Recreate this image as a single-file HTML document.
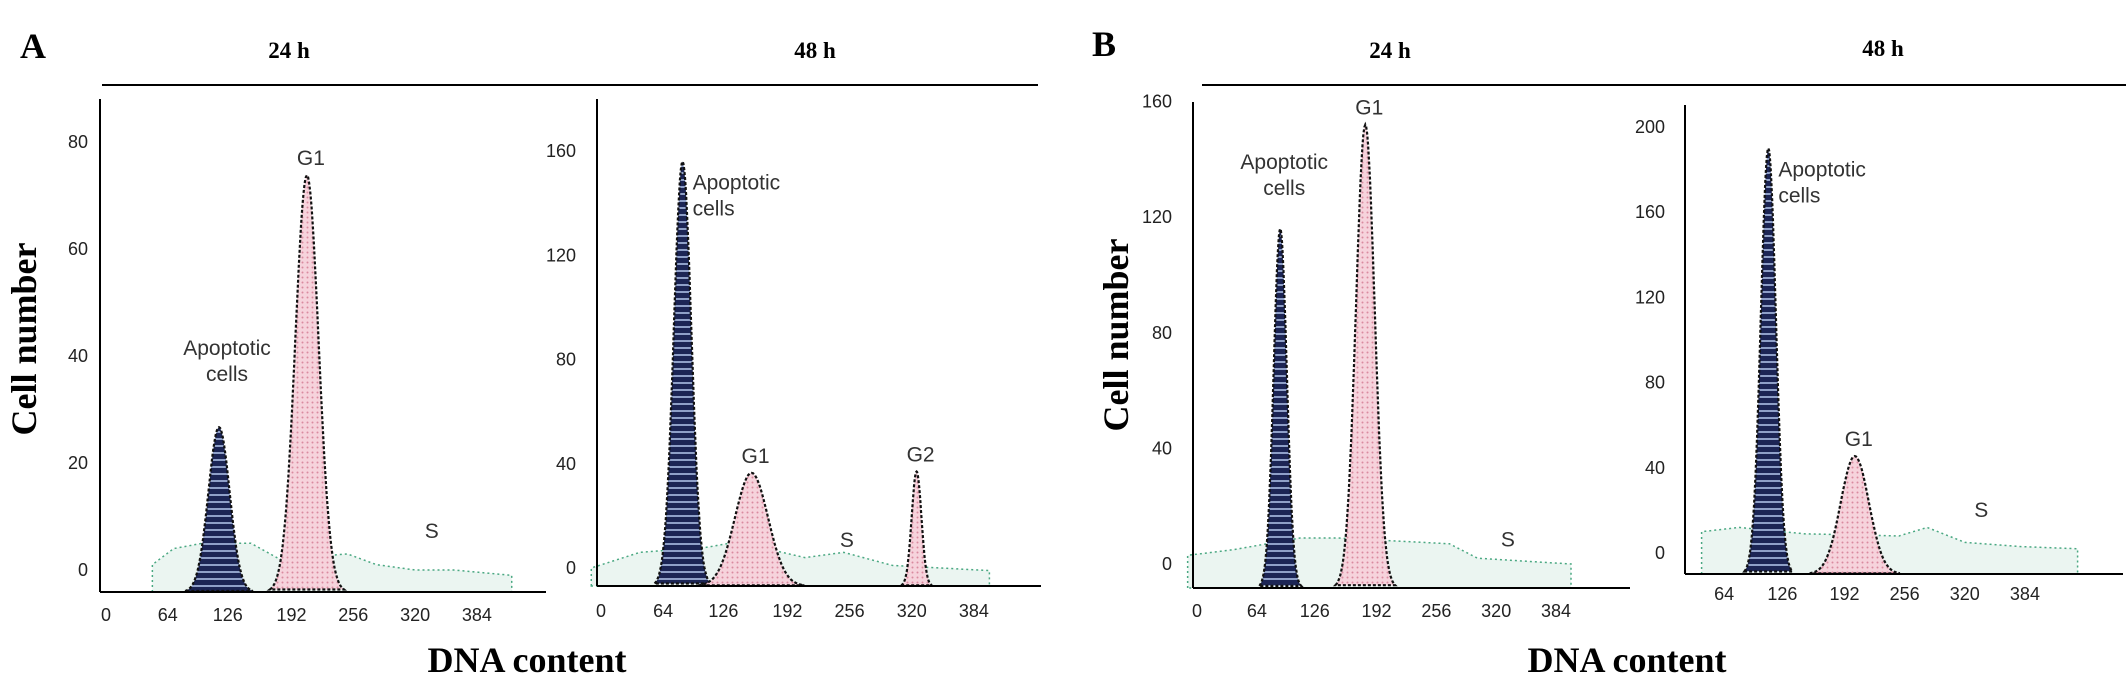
<!DOCTYPE html>
<html><head><meta charset="utf-8"><style>
html,body{margin:0;padding:0;background:#fff;}
svg{display:block;}
.tick{font-family:"Liberation Sans",sans-serif;font-size:18px;fill:#222;}
.lbl{font-family:"Liberation Sans",sans-serif;font-size:21px;fill:#333;}
.big{font-family:"Liberation Serif",serif;font-weight:bold;fill:#000;}
</style></head><body>
<svg id="fig" width="2126" height="677" viewBox="0 0 2126 677" xmlns="http://www.w3.org/2000/svg">
<defs>
<pattern id="blueStripe" width="6" height="7" patternUnits="userSpaceOnUse">
<rect width="6" height="7" fill="#1c2555"/><rect y="4" width="6" height="2" fill="#8fa0c8"/>
</pattern>
<pattern id="pinkDot" width="5" height="5" patternUnits="userSpaceOnUse">
<rect width="5" height="5" fill="#f6d3dc"/><circle cx="2.5" cy="2.5" r="1" fill="#d98aa0"/>
</pattern>
</defs>
<text class="big" x="20" y="58" font-size="36">A</text>
<text class="big" x="1092" y="56" font-size="36">B</text>
<text class="big" x="289" y="58" font-size="23" text-anchor="middle">24 h</text>
<text class="big" x="815" y="58" font-size="23" text-anchor="middle">48 h</text>
<text class="big" x="1390" y="58" font-size="23" text-anchor="middle">24 h</text>
<text class="big" x="1883" y="56" font-size="23" text-anchor="middle">48 h</text>
<line x1="102" y1="85" x2="1038" y2="85" stroke="#000" stroke-width="2"/>
<line x1="1202" y1="85" x2="2126" y2="85" stroke="#000" stroke-width="2"/>
<text class="big" font-size="36" transform="translate(36,339) rotate(-90)" text-anchor="middle">Cell number</text>
<text class="big" font-size="36" transform="translate(1128,335) rotate(-90)" text-anchor="middle">Cell number</text>
<text class="big" font-size="36" x="527" y="672" text-anchor="middle">DNA content</text>
<text class="big" font-size="36" x="1627" y="672" text-anchor="middle">DNA content</text>
<g id="plots"></g>
</svg>
<script>
// ---- data ----
const panelIds = ['a-24h', 'a-48h', 'b-24h', 'b-48h'];
const xTickValuesA24 = [0, 64, 126, 192, 256, 320, 384];
const xTickValuesA48 = [0, 64, 126, 192, 256, 320, 384];
const xTickValuesB24 = [0, 64, 126, 192, 256, 320, 384];
const xTickValuesB48 = [64, 126, 192, 256, 320, 384];
const yTickValuesA24 = [0, 20, 40, 60, 80];
const yTickValuesA48 = [0, 40, 80, 120, 160];
const yTickValuesB24 = [0, 40, 80, 120, 160];
const yTickValuesB48 = [0, 40, 80, 120, 160, 200];
const peakCenters = [[117, 208], [84, 155, 325], [89, 180], [111, 203]];
const peakHeights = [[26.7, 73.8], [156, 36.5, 37], [116, 152], [190, 45.5]];
const peakSigmas = [[11, 12], [9, 17, 5], [7, 10], [8, 15]];
const peakKinds = [['apop', 'g1'], ['apop', 'g1', 'g1'], ['apop', 'g1'], ['apop', 'g1']];
const peakLabels = [['Apoptotic|cells', 'G1'], ['Apoptotic|cells', 'G1', 'G2'], ['Apoptotic|cells', 'G1'], ['Apoptotic|cells', 'G1']];
const noiseX = [[48, 70, 100, 150, 180, 250, 280, 320, 360, 420], [-10, 40, 110, 140, 210, 250, 300, 350, 400], [-10, 40, 110, 150, 270, 300, 350, 400], [40, 80, 150, 250, 280, 320, 380, 440]];
const noiseY = [[1, 4, 5, 5, 2, 3, 1, 0, 0, -1], [0, 6, 8, 10, 4, 6, 1, 0, -1], [3, 5, 9, 9, 7, 2, 1, 0], [10, 12, 9, 8, 12, 5, 3, 2]];
const sLabelX = [330, 246, 325, 330];
const sLabelY = [6, 8, 6, 17];

// ---- layout (pixel geometry of each panel) ----
const layout = [
  {x0: 106, xs: 0.966, y0: 570, ys: 5.35, axL: 100, axR: 546, axTop: 99, axY: 592, tickY: 621, yLblX: 88},
  {x0: 601, xs: 0.971, y0: 568, ys: 2.606, axL: 597, axR: 1041, axTop: 99, axY: 586, tickY: 617, yLblX: 576},
  {x0: 1197, xs: 0.935, y0: 564, ys: 2.89, axL: 1193, axR: 1630, axTop: 102, axY: 588, tickY: 617, yLblX: 1172},
  {x0: 1664, xs: 0.94, y0: 553, ys: 2.13, axL: 1685, axR: 2123, axTop: 105, axY: 574, tickY: 600, yLblX: 1665}
];
const xTicks = [xTickValuesA24, xTickValuesA48, xTickValuesB24, xTickValuesB48];
const yTicks = [yTickValuesA24, yTickValuesA48, yTickValuesB24, yTickValuesB48];
const NS = 'http://www.w3.org/2000/svg';
const root = document.getElementById('plots');
function mk(tag, attrs, parent) {
  const e = document.createElementNS(NS, tag);
  for (const k in attrs) e.setAttribute(k, attrs[k]);
  parent.appendChild(e);
  return e;
}
panelIds.forEach((pid, i) => {
  const L = layout[i];
  const X = v => L.x0 + v * L.xs;
  const Y = v => L.y0 - v * L.ys;
  const g = mk('g', {}, root);
  
  
  let d = 'M' + X(noiseX[i][0]) + ',' + L.axY;
  noiseX[i].forEach((xv, j) => { d += ' L' + X(xv) + ',' + Y(noiseY[i][j]); });
  d += ' L' + X(noiseX[i][noiseX[i].length - 1]) + ',' + L.axY + ' Z';
  const nb = mk('path', {d: d, fill: '#e6f3ee', 'fill-opacity': 0.8, stroke: '#4aa882', 'stroke-width': 1.5, 'stroke-dasharray': '2 3'}, g);
  
  
  peakCenters[i].forEach((c, j) => {
    const h = peakHeights[i][j], s = peakSigmas[i][j];
    const topPx = Y(h);
    let pd = '';
    for (let k = -3.2; k <= 3.2001; k += 0.1) {
      const gv = Math.exp(-k * k / 2);
      const px = X(c + k * s), py = L.axY - (L.axY - topPx) * gv;
      pd += (pd ? ' L' : 'M') + px.toFixed(1) + ',' + py.toFixed(1);
    }
    pd += ' Z';
    const p = mk('path', {d: pd, fill: peakKinds[i][j] === 'apop' ? 'url(#blueStripe)' : 'url(#pinkDot)', stroke: '#111', 'stroke-width': 2.2, 'stroke-dasharray': '3 2'}, g);
    
    
    const parts = peakLabels[i][j].split('|');
    let lx, ly, anchor = 'middle';
    if (parts.length > 1) {
      if (i === 0) { lx = X(c) + 8; ly = Y(h) - 72; }
      else if (i === 2) { lx = X(c) + 4; ly = Y(h) - 60; }
      else { lx = X(c) + 10; ly = Y(h) + 28; anchor = 'start'; }
    } else { lx = X(c) + 4; ly = topPx - 10; }
    const t = mk('text', {class: 'lbl', x: lx, y: ly, 'text-anchor': anchor}, g);
    
    
    parts.forEach((pt, q) => { const ts = mk('tspan', {x: lx, dy: q ? 26 : 0}, t); ts.textContent = pt; });
  });
  const sl = mk('text', {class: 'lbl', x: X(sLabelX[i]), y: Y(sLabelY[i])}, g);
  
  
  sl.textContent = 'S';
  const ya = mk('line', {x1: L.axL, y1: L.axTop, x2: L.axL, y2: L.axY, stroke: '#000', 'stroke-width': 2}, g);
  
  
  const xa = mk('line', {x1: L.axL, y1: L.axY, x2: L.axR, y2: L.axY, stroke: '#000', 'stroke-width': 2}, g);
  
  
  xTicks[i].forEach(v => {
    const t = mk('text', {class: 'tick', x: X(v), y: L.tickY, 'text-anchor': 'middle'}, g);
    
    
    t.textContent = v;
  });
  yTicks[i].forEach(v => {
    const t = mk('text', {class: 'tick', x: L.yLblX, y: Y(v) + 6, 'text-anchor': 'end'}, g);
    
    
    t.textContent = v;
  });
});
</script>
</body></html>
